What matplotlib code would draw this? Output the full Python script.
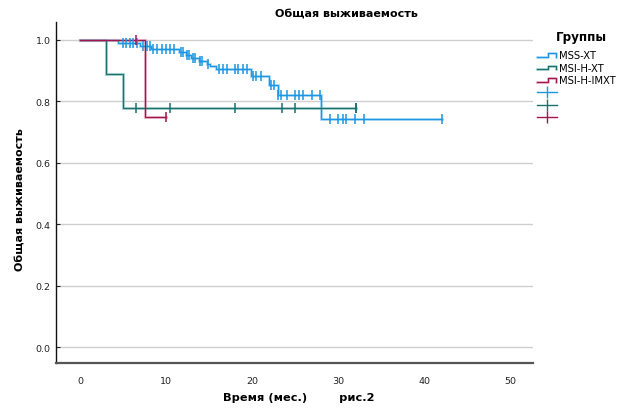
import numpy as np
import matplotlib
matplotlib.use("Agg")
import matplotlib.pyplot as plt
from matplotlib.lines import Line2D
from matplotlib.legend_handler import HandlerBase
from matplotlib import font_manager

# ---------------- data ----------------
groups = ["MSS-XT", "MSI-H-XT", "MSI-H-IMXT"]

# MSS-XT: event times and survival after each event
mss_event_t = [4.4, 7.0, 8.3, 11.5, 12.3, 12.9, 13.8, 14.7, 15.1, 15.8, 19.9, 22.0, 23.0, 28.0]
mss_surv    = [0.988, 0.978, 0.970, 0.961, 0.951, 0.941, 0.930, 0.920, 0.913, 0.904, 0.883, 0.854, 0.819, 0.743]
mss_censor  = [5.0, 5.4, 5.8, 6.2, 6.6, 7.35, 7.8, 8.1, 8.5, 9.0, 9.5, 10.0, 10.45, 10.9,
               11.7, 12.0, 12.4, 12.7, 13.1, 13.4, 13.9, 14.2, 14.9, 16.1, 16.6, 17.1, 18.0,
               18.4, 18.9, 19.4, 20.1, 20.5, 21.0, 22.2, 22.5, 23.0, 23.4, 24.0, 25.0, 25.4,
               25.9, 27.0, 27.9, 29.0, 30.0, 30.5, 30.9, 31.9, 33.0, 42.0]

# MSI-H-XT
msixt_event_t = [3.0, 5.0]
msixt_surv    = [0.889, 0.778]
msixt_censor  = [6.5, 10.5, 18.0, 23.5, 25.0, 32.0, 32.0]

# MSI-H-IMXT
msiim_event_t = [7.5]
msiim_surv    = [0.75]
msiim_censor  = [6.5, 10.0]

x_ticks = [0, 10, 20, 30, 40, 50]
y_ticks = [0.0, 0.2, 0.4, 0.6, 0.8, 1.0]

core_colors = ["#1b96e2", "#17716c", "#a0164c"]
halo_colors = ["#8ccbf2", "#86bcb9", "#dc93ad"]

series = [
    (mss_event_t, mss_surv, mss_censor),
    (msixt_event_t, msixt_surv, msixt_censor),
    (msiim_event_t, msiim_surv, msiim_censor),
]

available = {f.name for f in font_manager.fontManager.ttflist}
if "Liberation Sans Narrow" in available:
    label_font = "Liberation Sans Narrow"
    title_size = 10.0
    xlab_size = 10.3
    grp_size = 10.8
    leg_font = "Liberation Sans Narrow"
    leg_size = 9.5
else:
    label_font = "DejaVu Sans"
    title_size = 8.0
    xlab_size = 8.2
    grp_size = 8.6
    leg_font = "DejaVu Sans"
    leg_size = 7.2


def step_curve(ev_t, surv, end_t):
    xs = [0.0]
    ys = [1.0]
    for t, s in zip(ev_t, surv):
        xs.append(t); ys.append(ys[-1])
        xs.append(t); ys.append(s)
    xs.append(end_t); ys.append(ys[-1])
    return np.array(xs), np.array(ys)


def surv_at(ev_t, surv, t):
    s = 1.0
    for et, sv in zip(ev_t, surv):
        if t >= et:
            s = sv
    return s


fig = plt.figure(figsize=(6.34, 4.10), dpi=100)
ax = fig.add_axes([56.3 / 634, 1 - 364.3 / 410, (533.3 - 56.3) / 634, (364.3 - 23) / 410])

for (ev_t, surv, cens), cc, hc in zip(series, core_colors, halo_colors):
    end_t = max(max(cens), max(ev_t))
    xs, ys = step_curve(ev_t, surv, end_t)
    ax.plot(xs, ys, color=hc, lw=2.2, alpha=0.6, solid_joinstyle="miter", zorder=3)
    ax.plot(xs, ys, color=cc, lw=0.9, solid_joinstyle="miter", zorder=4)
    cy = [surv_at(ev_t, surv, t) for t in cens]
    ax.plot(cens, cy, linestyle="none", marker="|", markersize=7, mew=1.1,
            color=cc, zorder=5)

ax.set_xlim(-2.75, 52.65)
ax.set_ylim(-0.052, 1.0575)
ax.set_xticks(x_ticks)
ax.set_xticklabels([str(v) for v in x_ticks])
ax.set_yticks(y_ticks)
ax.set_yticklabels([f"{v:.1f}" for v in y_ticks])
ax.tick_params(axis="x", length=0, pad=9, labelsize=6.8, colors="#222222")
ax.tick_params(axis="y", direction="in", length=3, width=0.8, pad=4, labelsize=6.8, colors="#222222")
ax.grid(axis="y", color="#cfcfcf", lw=1.0, zorder=0)
ax.set_axisbelow(True)
for s in ["top", "right"]:
    ax.spines[s].set_visible(False)
ax.spines["left"].set_color("#111111")
ax.spines["left"].set_linewidth(1.0)
ax.spines["bottom"].set_color("#555555")
ax.spines["bottom"].set_linewidth(1.6)

fig.text(346 / 634, 1 - 14 / 410, "Общая выживаемость", ha="center", va="center",
         fontsize=title_size, fontweight="bold", family=label_font)
fig.text(20 / 634, 1 - 200 / 410, "Общая выживаемость", ha="center", va="center",
         rotation=90, fontsize=title_size, fontweight="bold", family=label_font)
fig.text(299 / 634, 1 - 398 / 410, "Время (мес.)        рис.2", ha="center", va="center",
         fontsize=xlab_size, fontweight="bold", family=label_font)
fig.text(556 / 634, 1 - 37 / 410, "Группы", ha="left", va="center",
         fontsize=grp_size, fontweight="bold", family=label_font)


class HandlerStep(HandlerBase):
    def __init__(self, core, halo):
        super().__init__()
        self.core = core
        self.halo = halo

    def create_artists(self, legend, orig_handle, xdescent, ydescent, width, height,
                       fontsize, trans):
        x0 = -xdescent
        y0 = -ydescent
        xs = [x0, x0 + 0.55 * width, x0 + 0.55 * width, x0 + 0.95 * width, x0 + 0.95 * width]
        ys = [y0 + 0.2 * height, y0 + 0.2 * height, y0 + 0.7 * height,
              y0 + 0.7 * height, y0 + 0.2 * height]
        h = Line2D(xs, ys, color=self.halo, lw=2.0, alpha=0.6, transform=trans)
        c = Line2D(xs, ys, color=self.core, lw=0.9, transform=trans)
        return [h, c]


handles = []
handler_map = {}
for cc, hc in zip(core_colors, halo_colors):
    hdl = Line2D([], [], color=cc)
    handles.append(hdl)
    handler_map[hdl] = HandlerStep(cc, hc)
for cc in core_colors:
    handles.append(Line2D([], [], color=cc, lw=1.0, marker="|", markersize=9, mew=1.0))
labels = groups + ["", "", ""]

leg = fig.legend(handles, labels, handler_map=handler_map, loc="upper left",
                 bbox_to_anchor=(530 / 634, 1 - 44 / 410), frameon=False,
                 prop={"family": leg_font, "size": leg_size},
                 handlelength=2.0, handletextpad=0.2,
                 labelspacing=0.25, borderpad=0.2)

fig.savefig("out.png", dpi=100)
